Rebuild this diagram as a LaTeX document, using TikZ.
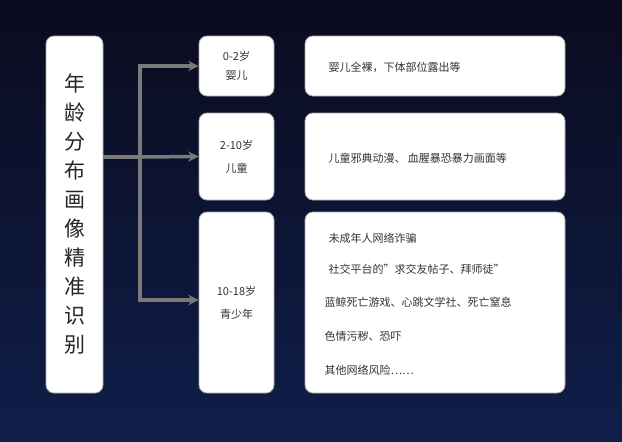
\documentclass[tikz,border=0pt]{standalone}
\usepackage{fontspec}
\setmainfont{Noto Sans CJK SC}
\usetikzlibrary{positioning}
\definecolor{navytop}{HTML}{0B0B1E}
\definecolor{navybot}{HTML}{0F1E4A}
\definecolor{arrowgray}{HTML}{7A7A7A}
\tikzset{
  card/.style={draw=gray!70, fill=white, rounded corners=8pt, line width=0.8pt},
  lbl/.style={font=\fontsize{11}{13}\selectfont, text=black!80},
  feed/.style={->, >=stealth, draw=arrowgray, line width=3.5pt}
}
\begin{document}
\begin{tikzpicture}[x=1pt, y=-1pt]
    \useasboundingbox (0,0) rectangle (622,442);
    \shade [top color=navytop, bottom color=navybot] (0,0) rectangle (622,442);

    % Cards
    \node [card, minimum width=57pt, minimum height=357pt] (age) at (74.5,214.5) {};
    \node [font=\fontsize{21}{29}\selectfont, align=center, text=black!85] (agetxt) at (age)
      {年\\龄\\分\\布\\画\\像\\精\\准\\识\\别};
    \node [card, minimum width=75pt, minimum height=60pt]  (baby)  at (236.5,66)  {};
    \node [card, minimum width=75pt, minimum height=87pt]  (child) at (236.5,156.5) {};
    \node [card, minimum width=75pt, minimum height=181pt] (teen)  at (236.5,302.5) {};
    \node [card, minimum width=260pt, minimum height=60pt]  (r1) at (435,66)  {};
    \node [card, minimum width=260pt, minimum height=87pt]  (r2) at (435,156.5) {};
    \node [card, minimum width=260pt, minimum height=181pt] (r3) at (435,302.5) {};

    % Labels
    \node [lbl, align=center] at (baby)  {0-2岁\\[6pt]婴儿};
    \node [lbl, align=center] at (child) {2-10岁\\[10pt]儿童};
    \node [lbl, align=center] at (teen)  {10-18岁\\[10pt]青少年};
    \node [lbl, anchor=west] at (325,67)  {婴儿全裸，下体部位露出等};
    \node [lbl, anchor=west] at (325,158) {儿童邪典动漫、 血腥暴恐暴力画面等};
    \node [lbl, anchor=west] at (325,238) {未成年人网络诈骗};
    \node [lbl, anchor=west] at (325,269) {社交平台的"求交友帖子、拜师徒"};
    \node [lbl, anchor=west] at (321,302) {蓝鲸死亡游戏、心跳文学社、死亡窒息};
    \node [lbl, anchor=west] at (321,336) {色情污秽、恐吓};
    \node [lbl, anchor=west] at (321,370) {其他网络风险……};

    % Connectors
    \coordinate (hub) at (140,157);
    \draw [draw=arrowgray, line width=3.5pt] (age.east |- hub) -- (hub);
    \draw [feed] (hub) |- (baby.west);
    \draw [feed] (hub) -- (child.west);
    \draw [feed] (hub) |- (teen.west |- 0,300);
\end{tikzpicture}
\end{document}
